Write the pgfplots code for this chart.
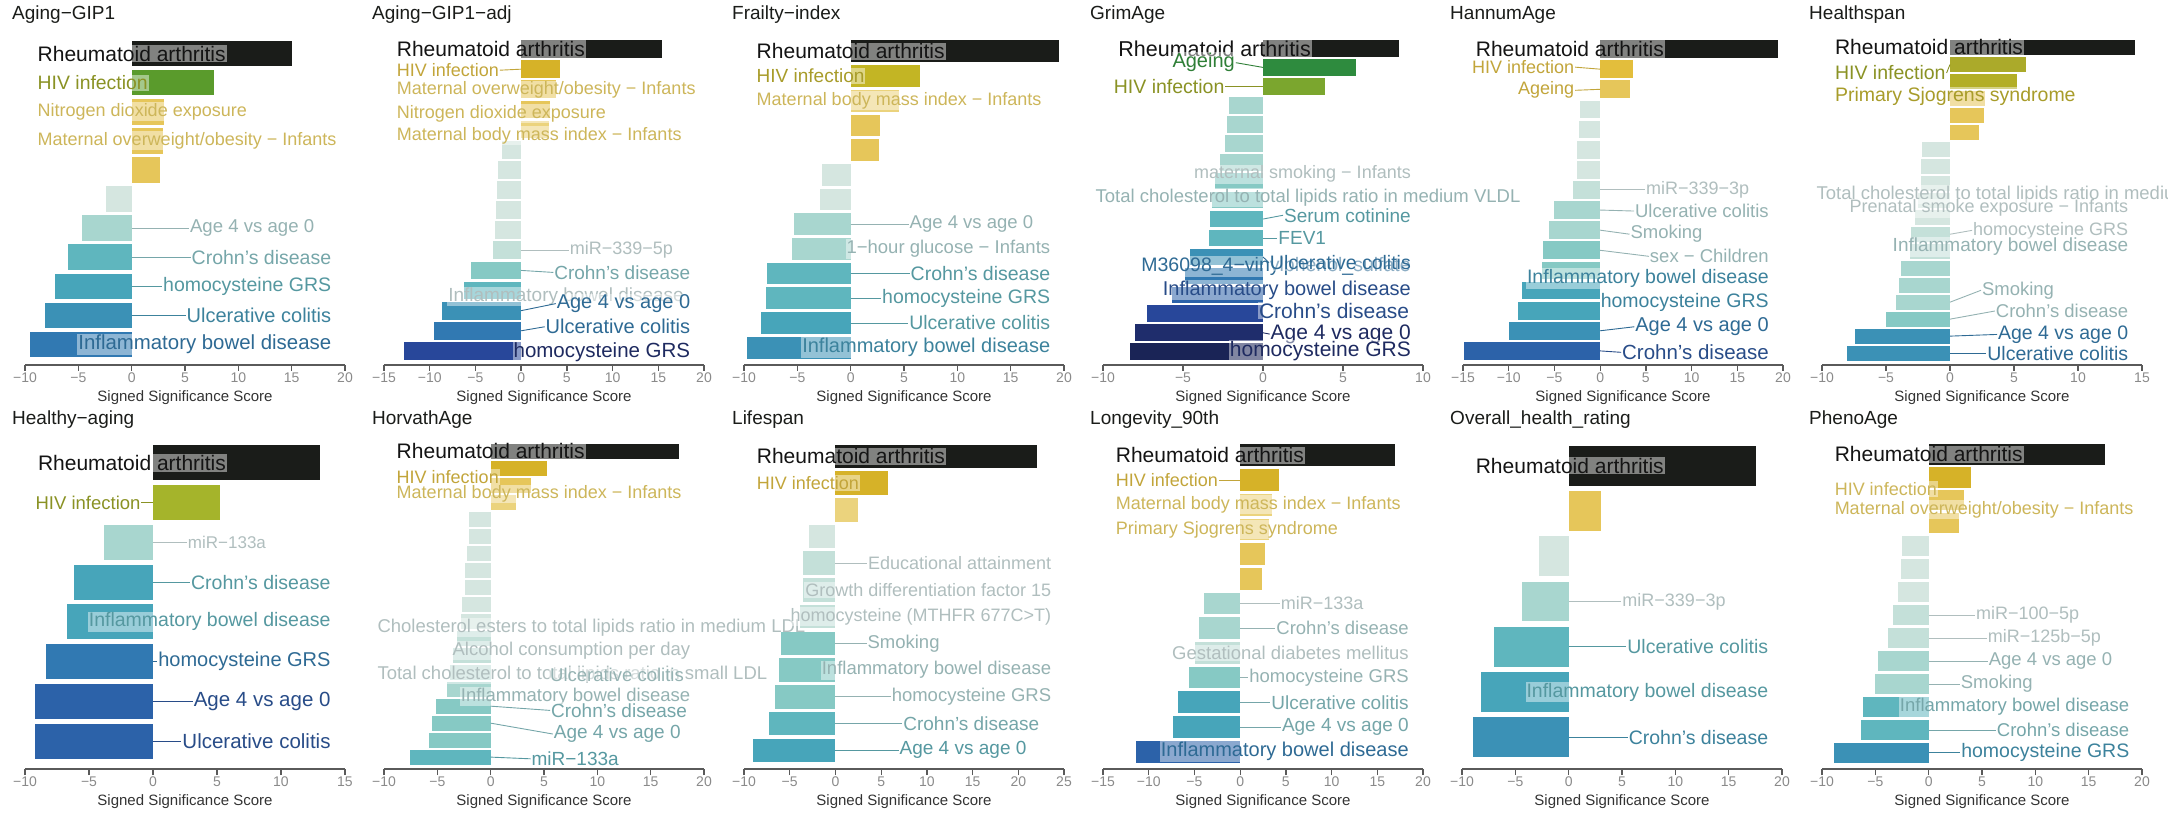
\documentclass[border=0pt]{standalone}
\usepackage{fontspec}
\setmainfont{Liberation Sans}
\usepackage{pgfplots}
\pgfplotsset{compat=1.18}
\definecolor{cK}{HTML}{1A1C19}
\definecolor{pGreen}{HTML}{5A9B2C}
\definecolor{pDG}{HTML}{2E8B3E}
\definecolor{pOG}{HTML}{7BA62E}
\definecolor{pYG}{HTML}{A5B42B}
\definecolor{pOl}{HTML}{ABAA2A}
\definecolor{pOl2}{HTML}{B3AE26}
\definecolor{pOl3}{HTML}{C3B524}
\definecolor{pGold}{HTML}{D6B228}
\definecolor{pY0}{HTML}{E3BE3C}
\definecolor{pY1}{HTML}{E6C65A}
\definecolor{pY2}{HTML}{EBD37D}
\definecolor{n0}{HTML}{D5E6E0}
\definecolor{n1}{HTML}{C4E0D9}
\definecolor{n2}{HTML}{A8D6CF}
\definecolor{n3}{HTML}{86C9C4}
\definecolor{n4}{HTML}{5FB6BE}
\definecolor{n5}{HTML}{47A5BA}
\definecolor{n6}{HTML}{3B91B6}
\definecolor{n7}{HTML}{3179B2}
\definecolor{n8}{HTML}{2C62A9}
\definecolor{n9}{HTML}{28479A}
\definecolor{n10}{HTML}{1F2D6C}
\definecolor{n11}{HTML}{1A2456}
\definecolor{tK}{HTML}{141414}
\definecolor{tOl}{HTML}{8A9224}
\definecolor{tOl2}{HTML}{A89C2A}
\definecolor{tGd}{HTML}{C2A53A}
\definecolor{tGd2}{HTML}{CDB65A}
\definecolor{tGr}{HTML}{2F7F37}
\definecolor{tA}{HTML}{B0BEBE}
\definecolor{tB}{HTML}{95B2B2}
\definecolor{tC}{HTML}{75A6A9}
\definecolor{tD}{HTML}{5598A0}
\definecolor{tE}{HTML}{3C829C}
\definecolor{tF}{HTML}{2E6A94}
\definecolor{tG}{HTML}{284C88}
\definecolor{tH}{HTML}{1E2A60}
\definecolor{axisgray}{HTML}{5A5A5A}
\definecolor{tickgray}{HTML}{8A8A8A}
\definecolor{xlabgray}{HTML}{333333}

\tikzset{lab/.style={fill=white, fill opacity=0.45, text opacity=1, inner sep=1bp, outer sep=0pt}}

\newcommand{\B}[3]{\addplot[xbar,bar shift=0pt,bar width=0.88,fill=#3,draw=none] coordinates {(#1,#2)};}
\newcommand{\LR}[6]{\node[lab,anchor=east,text=#4,font=\fontsize{#5bp}{#5bp}\selectfont] (t) at (axis cs:#1,#2) {#6};
 \draw[#4,line width=0.9bp] (axis cs:0,#3) -- (t.west);}
\newcommand{\LRn}[5]{\node[lab,anchor=east,text=#3,font=\fontsize{#4bp}{#4bp}\selectfont] at (axis cs:#1,#2) {#5};}
\newcommand{\LL}[6]{\node[lab,anchor=west,text=#4,font=\fontsize{#5bp}{#5bp}\selectfont] (t) at (axis cs:#1,#2) {#6};
 \draw[#4,line width=0.9bp] (t.east) -- (axis cs:0,#3);}
\newcommand{\LLn}[5]{\node[lab,anchor=west,text=#3,font=\fontsize{#4bp}{#4bp}\selectfont] at (axis cs:#1,#2) {#5};}
\newcommand{\LE}[6]{\node[lab,anchor=east,text=#4,font=\fontsize{#5bp}{#5bp}\selectfont] (t) at (axis cs:#1,#2) {#6};
 \draw[#4,line width=0.9bp] (t.east) -- (axis cs:0,#3);}

\pgfplotsset{
 panel/.style={scale only axis, width=320bp, height=326bp, clip=false,
  ymin=0.3, anchor=south west,
  axis x line*=bottom, axis y line=none, ytick=\empty,
  x axis line style={-,draw=axisgray,line width=1.5bp},
  every outer x axis line/.append style={-},
  tick align=outside, major tick length=6bp,
  xtick style={draw=axisgray,line width=1.3bp},
  xticklabel style={font=\fontsize{14bp}{14bp}\selectfont, text=tickgray, inner sep=1.5bp},
  xlabel={Signed Significance Score},
  xlabel style={at={(axis description cs:0.5,0)}, anchor=center, yshift=-33bp,
    font=\fontsize{15bp}{15bp}\selectfont, text=xlabgray},
 },
 rA/.style={xmin=-10,xmax=20,xtick={-10,-5,0,5,10,15,20},xticklabels={−10,−5,0,5,10,15,20}},
 rB/.style={xmin=-15,xmax=20,xtick={-15,-10,-5,0,5,10,15,20},xticklabels={−15,−10,−5,0,5,10,15,20}},
 rC/.style={xmin=-10,xmax=10,xtick={-10,-5,0,5,10},xticklabels={−10,−5,0,5,10}},
 rD/.style={xmin=-10,xmax=15,xtick={-10,-5,0,5,10,15},xticklabels={−10,−5,0,5,10,15}},
 rE/.style={xmin=-10,xmax=25,xtick={-10,-5,0,5,10,15,20,25},xticklabels={−10,−5,0,5,10,15,20,25}},
}

\begin{document}
\begin{tikzpicture}
\useasboundingbox (0,0) rectangle (2168bp,817bp);
\clip (0,0) rectangle (2168bp,817bp);
\tikzset{ttl/.style={anchor=base west,font=\fontsize{19bp}{19bp}\selectfont,text=cK,inner sep=0pt}}
\node[ttl] at (12bp,797bp) {Aging−GIP1};
\node[ttl] at (372bp,797bp) {Aging−GIP1−adj};
\node[ttl] at (732bp,797bp) {Frailty−index};
\node[ttl] at (1090bp,797bp) {GrimAge};
\node[ttl] at (1450bp,797bp) {HannumAge};
\node[ttl] at (1809bp,797bp) {Healthspan};
\node[ttl] at (12bp,392bp) {Healthy−aging};
\node[ttl] at (372bp,392bp) {HorvathAge};
\node[ttl] at (732bp,392bp) {Lifespan};
\node[ttl] at (1090bp,392bp) {Longevity\_90th};
\node[ttl] at (1450bp,392bp) {Overall\_health\_rating};
\node[ttl] at (1809bp,392bp) {PhenoAge};

% ---------- Panel 1: Aging-GIP1
\begin{axis}[panel, rA, at={(25bp,452bp)}, ymax=11.5]
\B{-9.5}{1}{n7}
\B{-8.1}{2}{n6}
\B{-7.2}{3}{n5}
\B{-5.95}{4}{n4}
\B{-4.7}{5}{n2}
\B{-2.4}{6}{n0}
\B{2.65}{7}{pY1}
\B{2.95}{8}{pY1}
\B{3.05}{9}{pY1}
\B{7.7}{10}{pGreen}
\B{15.0}{11}{cK}
\LLn{-8.9}{11}{tK}{21}{Rheumatoid arthritis}
\LLn{-8.9}{10}{tOl}{19.4}{HIV infection}
\LLn{-8.9}{9}{tGd2}{18}{Nitrogen dioxide exposure}
\LLn{-8.9}{8}{tGd2}{18}{Maternal overweight/obesity − Infants}
\LR{17.2}{5}{5}{tB}{18.6}{Age 4 vs age 0}
\LR{18.8}{4}{4}{tC}{19.5}{Crohn's disease}
\LR{18.8}{3}{3}{tD}{19.5}{homocysteine GRS}
\LR{18.8}{2}{2}{tE}{20}{Ulcerative colitis}
\LRn{18.8}{1}{tF}{20.4}{Inflammatory bowel disease}
\end{axis}

% ---------- Panel 2: Aging-GIP1-adj
\begin{axis}[panel, rB, at={(384bp,452bp)}, ymax=16.5]
\B{-12.8}{1}{n9}
\B{-9.5}{2}{n7}
\B{-8.7}{3}{n6}
\B{-6.2}{4}{n4}
\B{-5.5}{5}{n3}
\B{-3.1}{6}{n1}
\B{-2.85}{7}{n0}
\B{-2.7}{8}{n0}
\B{-2.6}{9}{n0}
\B{-2.5}{10}{n0}
\B{-2.1}{11}{n0}
\B{3.0}{12}{pY2}
\B{3.2}{13}{pY1}
\B{3.8}{14}{pY1}
\B{4.3}{15}{pGold}
\B{15.4}{16}{cK}
\LLn{-13.7}{16}{tK}{21}{Rheumatoid arthritis}
\LL{-13.7}{14.95}{15}{tGd}{18}{HIV infection}
\LLn{-13.7}{13.95}{tGd2}{18}{Maternal overweight/obesity − Infants}
\LLn{-13.7}{12.8}{tGd2}{18}{Nitrogen dioxide exposure}
\LLn{-13.7}{11.7}{tGd2}{18}{Maternal body mass index − Infants}
\LR{16.7}{6}{6}{tA}{18}{miR−339−5p}
\LR{18.6}{4.9}{5}{tC}{19}{Crohn's disease}
\LRn{17.9}{3.7}{tA}{19}{Inflammatory bowel disease}
\LR{18.6}{3.35}{3}{tF}{20}{Age 4 vs age 0}
\LR{18.6}{2.2}{2}{tF}{20}{Ulcerative colitis}
\LRn{18.6}{0.95}{tH}{20.5}{homocysteine GRS}
\end{axis}

% ---------- Panel 3: Frailty-index
\begin{axis}[panel, rA, at={(744bp,452bp)}, ymax=13.5]
\B{-9.7}{1}{n6}
\B{-8.45}{2}{n5}
\B{-7.9}{3}{n4}
\B{-7.8}{4}{n4}
\B{-5.5}{5}{n2}
\B{-5.3}{6}{n2}
\B{-2.9}{7}{n0}
\B{-2.7}{8}{n0}
\B{2.65}{9}{pY1}
\B{2.75}{10}{pY1}
\B{4.55}{11}{pY2}
\B{6.5}{12}{pOl3}
\B{19.5}{13}{cK}
\LLn{-8.9}{13}{tK}{21}{Rheumatoid arthritis}
\LLn{-8.9}{12}{tOl2}{19}{HIV infection}
\LLn{-8.9}{11}{tGd2}{18}{Maternal body mass index − Infants}
\LR{17.2}{6}{6}{tB}{18.5}{Age 4 vs age 0}
\LRn{18.8}{5}{tB}{18.5}{1−hour glucose − Infants}
\LR{18.8}{4}{4}{tD}{19.5}{Crohn's disease}
\LR{18.8}{3}{3}{tD}{19.5}{homocysteine GRS}
\LR{18.8}{2}{2}{tD}{19.5}{Ulcerative colitis}
\LRn{18.8}{1}{tE}{20}{Inflammatory bowel disease}
\end{axis}

% ---------- Panel 4: GrimAge
\begin{axis}[panel, rC, at={(1103bp,452bp)}, ymax=17.5]
\B{-8.3}{1}{n11}
\B{-8.0}{2}{n10}
\B{-7.25}{3}{n9}
\B{-5.7}{4}{n8}
\B{-4.85}{5}{n7}
\B{-4.55}{6}{n6}
\B{-3.4}{7}{n4}
\B{-3.3}{8}{n4}
\B{-3.2}{9}{n3}
\B{-3.0}{10}{n3}
\B{-2.7}{11}{n2}
\B{-2.35}{12}{n2}
\B{-2.25}{13}{n2}
\B{-2.15}{14}{n2}
\B{3.9}{15}{pOG}
\B{5.82}{16}{pDG}
\B{8.52}{17}{cK}
\LLn{-9.1}{17}{tK}{21.5}{Rheumatoid arthritis}
\LE{-1.7}{16.25}{16}{tGr}{20}{Ageing}
\LE{-2.35}{15}{15}{tOl}{19.5}{HIV infection}
\LRn{9.3}{10.37}{tA}{18}{maternal smoking − Infants}
\LLn{-10.52}{9.14}{tB}{18.5}{Total cholesterol to total lipids ratio in medium VLDL}
\LR{9.3}{8.2}{8}{tD}{19}{Serum cotinine}
\LR{4.0}{7}{7}{tD}{19}{FEV1}
\LRn{9.3}{5.5}{tF}{19.5}{M36098\_4−vinylphenol\_sulfate}
\LR{9.3}{5.7}{6}{tF}{19.5}{Ulcerative colitis}
\LRn{9.3}{4.25}{tG}{20}{Inflammatory bowel disease}
\LRn{9.2}{3.16}{tG}{21}{Crohn's disease}
\LR{9.3}{1.93}{2}{tH}{21}{Age 4 vs age 0}
\LRn{9.3}{1.05}{tH}{21}{homocysteine GRS}
\end{axis}

% ---------- Panel 5: HannumAge
\begin{axis}[panel, rB, at={(1463bp,452bp)}, ymax=16.5]
\B{-14.85}{1}{n8}
\B{-9.95}{2}{n6}
\B{-9.0}{3}{n5}
\B{-8.55}{4}{n5}
\B{-6.4}{5}{n3}
\B{-6.3}{6}{n3}
\B{-5.65}{7}{n2}
\B{-5.1}{8}{n2}
\B{-3.0}{9}{n1}
\B{-2.55}{10}{n0}
\B{-2.5}{11}{n0}
\B{-2.35}{12}{n0}
\B{-2.25}{13}{n0}
\B{3.27}{14}{pY1}
\B{3.56}{15}{pY0}
\B{19.45}{16}{cK}
\LLn{-13.7}{16}{tK}{21}{Rheumatoid arthritis}
\LE{-2.73}{15.1}{15}{tGd}{18}{HIV infection}
\LE{-2.73}{13.95}{14}{tGd}{18}{Ageing}
\LR{16.4}{9}{9}{tA}{18}{miR−339−3p}
\LR{18.55}{7.95}{8}{tB}{18.5}{Ulcerative colitis}
\LR{11.3}{6.8}{7}{tB}{18.5}{Smoking}
\LR{18.55}{5.7}{6}{tB}{18.5}{sex − Children}
\LRn{18.55}{4.6}{tE}{19.5}{Inflammatory bowel disease}
\LRn{18.55}{3.43}{tE}{19.5}{homocysteine GRS}
\LR{18.55}{2.2}{2}{tF}{20}{Age 4 vs age 0}
\LR{18.55}{0.93}{1}{tG}{20.5}{Crohn's disease}
\end{axis}

% ---------- Panel 6: Healthspan
\begin{axis}[panel, rD, at={(1822bp,452bp)}, ymax=19.5]
\B{-8.05}{1}{n6}
\B{-7.4}{2}{n6}
\B{-5.0}{3}{n3}
\B{-4.2}{4}{n2}
\B{-3.95}{5}{n2}
\B{-3.8}{6}{n2}
\B{-3.1}{7}{n1}
\B{-3.05}{8}{n1}
\B{-2.7}{9}{n0}
\B{-2.5}{10}{n0}
\B{-2.3}{11}{n0}
\B{-2.3}{12}{n0}
\B{-2.2}{13}{n0}
\B{2.3}{14}{pY1}
\B{2.66}{15}{pY1}
\B{2.75}{16}{pY1}
\B{5.2}{17}{pOl2}
\B{5.95}{18}{pOl}
\B{14.45}{19}{cK}
\LLn{-9.06}{19}{tK}{21}{Rheumatoid arthritis}
\LL{-9.06}{17.5}{18}{tOl}{19.5}{HIV infection}
\LLn{-9.06}{16.1}{tOl2}{19.5}{Primary Sjogrens syndrome}
\LLn{-10.5}{10.35}{tA}{18.5}{Total cholesterol to total lipids ratio in medium VLDL}
\LRn{14.0}{9.53}{tA}{18}{Prenatal smoke exposure − Infants}
\LR{14.0}{8.23}{8}{tA}{18}{homocysteine GRS}
\LRn{14.0}{7.25}{tB}{19}{Inflammatory bowel disease}
\LR{8.2}{4.7}{4}{tB}{18.5}{Smoking}
\LR{14.0}{3.48}{3}{tB}{18.5}{Crohn's disease}
\LR{14.0}{2.1}{2}{tF}{19.5}{Age 4 vs age 0}
\LR{14.0}{1.0}{1}{tF}{19.5}{Ulcerative colitis}
\end{axis}

% ---------- Panel 7: Healthy-aging
\begin{axis}[panel, rD, at={(25bp,48bp)}, ymax=8.5]
\B{-9.2}{1}{n8}
\B{-9.2}{2}{n8}
\B{-8.35}{3}{n7}
\B{-6.7}{4}{n5}
\B{-6.15}{5}{n5}
\B{-3.8}{6}{n2}
\B{5.23}{7}{pYG}
\B{13.05}{8}{cK}
\LLn{-9.06}{8}{tK}{21}{Rheumatoid arthritis}
\LE{-0.9}{7}{7}{tOl}{18.5}{HIV infection}
\LR{8.9}{6}{6}{tA}{17}{miR−133a}
\LR{13.95}{5}{5}{tD}{19.5}{Crohn's disease}
\LRn{13.95}{4}{tD}{19.5}{Inflammatory bowel disease}
\LR{13.95}{3}{3}{tF}{20}{homocysteine GRS}
\LR{13.95}{2}{2}{tG}{20.5}{Age 4 vs age 0}
\LR{13.95}{1}{1}{tG}{20.5}{Ulcerative colitis}
\end{axis}

% ---------- Panel 8: HorvathAge
\begin{axis}[panel, rA, at={(384bp,48bp)}, ymax=19.5]
\B{-7.55}{1}{n4}
\B{-5.8}{2}{n3}
\B{-5.5}{3}{n3}
\B{-5.1}{4}{n3}
\B{-4.05}{5}{n2}
\B{-3.8}{6}{n1}
\B{-3.5}{7}{n1}
\B{-3.2}{8}{n1}
\B{-2.8}{9}{n0}
\B{-2.7}{10}{n0}
\B{-2.45}{11}{n0}
\B{-2.4}{12}{n0}
\B{-2.25}{13}{n0}
\B{-2.0}{14}{n0}
\B{-2.0}{15}{n0}
\B{2.4}{16}{pY2}
\B{3.75}{17}{pY1}
\B{5.25}{18}{pGold}
\B{17.7}{19}{cK}
\LLn{-8.9}{19}{tK}{21}{Rheumatoid arthritis}
\LLn{-8.9}{17.5}{tGd}{18}{HIV infection}
\LLn{-8.9}{16.5}{tGd2}{18}{Maternal body mass index − Infants}
\LLn{-10.7}{8.62}{tA}{18.5}{Cholesterol esters to total lipids ratio in medium LDL}
\LRn{18.8}{7.28}{tA}{18.5}{Alcohol consumption per day}
\LLn{-10.7}{5.86}{tA}{18.5}{Total cholesterol to total lipids ratio in small LDL}
\LRn{18.2}{5.86}{tB}{18.5}{Ulcerative colitis}
\LRn{18.8}{4.58}{tB}{18.5}{Inflammatory bowel disease}
\LR{18.5}{3.75}{4}{tC}{19}{Crohn's disease}
\LR{17.9}{2.36}{3}{tC}{19}{Age 4 vs age 0}
\LR{12.1}{0.9}{1}{tD}{19}{miR−133a}
\end{axis}

% ---------- Panel 9: Lifespan
\begin{axis}[panel, rE, at={(744bp,48bp)}, ymax=12.5]
\B{-9.0}{1}{n5}
\B{-7.3}{2}{n4}
\B{-6.6}{3}{n3}
\B{-6.2}{4}{n3}
\B{-6.0}{5}{n3}
\B{-3.9}{6}{n1}
\B{-3.6}{7}{n1}
\B{-3.5}{8}{n1}
\B{-2.9}{9}{n0}
\B{2.5}{10}{pY2}
\B{5.75}{11}{pGold}
\B{22.0}{12}{cK}
\LLn{-8.7}{12}{tK}{21}{Rheumatoid arthritis}
\LLn{-8.7}{11}{tGd}{18}{HIV infection}
\LR{23.7}{8}{8}{tA}{18}{Educational attainment}
\LRn{23.7}{7}{tA}{18}{Growth differentiation factor 15}
\LRn{23.7}{6}{tA}{18}{homocysteine (MTHFR 677C>T)}
\LR{11.5}{5}{5}{tB}{18.5}{Smoking}
\LRn{23.7}{4}{tB}{18.5}{Inflammatory bowel disease}
\LR{23.7}{3}{3}{tB}{18.5}{homocysteine GRS}
\LR{22.4}{2}{2}{tC}{19}{Crohn's disease}
\LR{21.0}{1}{1}{tD}{19}{Age 4 vs age 0}
\end{axis}

% ---------- Panel 10: Longevity_90th
\begin{axis}[panel, rB, at={(1103bp,48bp)}, ymax=13.5]
\B{-11.35}{1}{n8}
\B{-7.35}{2}{n5}
\B{-6.85}{3}{n5}
\B{-5.55}{4}{n3}
\B{-4.9}{5}{n1}
\B{-4.55}{6}{n2}
\B{-3.95}{7}{n2}
\B{2.4}{8}{pY1}
\B{2.75}{9}{pY1}
\B{3.1}{10}{pY2}
\B{3.45}{11}{pY2}
\B{4.25}{12}{pGold}
\B{16.9}{13}{cK}
\LLn{-13.7}{13}{tK}{21}{Rheumatoid arthritis}
\LL{-13.7}{12}{12}{tGd}{18}{HIV infection}
\LLn{-13.7}{11}{tGd2}{18}{Maternal body mass index − Infants}
\LLn{-13.7}{10}{tGd2}{18}{Primary Sjogrens syndrome}
\LR{13.6}{7}{7}{tA}{18}{miR−133a}
\LR{18.55}{6}{6}{tB}{18.5}{Crohn's disease}
\LRn{18.55}{5}{tA}{18.5}{Gestational diabetes mellitus}
\LR{18.55}{4}{4}{tB}{18.5}{homocysteine GRS}
\LR{18.55}{3}{3}{tC}{19}{Ulcerative colitis}
\LR{18.55}{2}{2}{tC}{19}{Age 4 vs age 0}
\LRn{18.55}{1}{tF}{20}{Inflammatory bowel disease}
\end{axis}

% ---------- Panel 11: Overall_health_rating
\begin{axis}[panel, rA, at={(1462bp,48bp)}, ymax=7.5]
\B{-9.0}{1}{n6}
\B{-8.2}{2}{n5}
\B{-7.0}{3}{n4}
\B{-4.35}{4}{n2}
\B{-2.8}{5}{n0}
\B{3.0}{6}{pY1}
\B{17.6}{7}{cK}
\LLn{-8.8}{7}{tK}{21}{Rheumatoid arthritis}
\LR{14.8}{4}{4}{tA}{18}{miR−339−3p}
\LR{18.8}{3}{3}{tD}{19.5}{Ulcerative colitis}
\LRn{18.8}{2}{tD}{19.5}{Inflammatory bowel disease}
\LR{18.8}{1}{1}{tE}{19.5}{Crohn's disease}
\end{axis}

% ---------- Panel 12: PhenoAge
\begin{axis}[panel, rA, at={(1822bp,48bp)}, ymax=14.5]
\B{-8.9}{1}{n6}
\B{-6.35}{2}{n4}
\B{-6.15}{3}{n4}
\B{-5.0}{4}{n2}
\B{-4.75}{5}{n2}
\B{-3.8}{6}{n1}
\B{-3.35}{7}{n1}
\B{-2.9}{8}{n0}
\B{-2.55}{9}{n0}
\B{-2.5}{10}{n0}
\B{2.8}{11}{pY1}
\B{3.3}{12}{pY1}
\B{4.0}{13}{pGold}
\B{16.55}{14}{cK}
\LLn{-8.9}{14}{tK}{21}{Rheumatoid arthritis}
\LLn{-8.9}{12.5}{tGd2}{18}{HIV infection}
\LLn{-8.9}{11.6}{tGd2}{18}{Maternal overweight/obesity − Infants}
\LR{14.2}{7}{7}{tA}{18}{miR−100−5p}
\LR{16.25}{6}{6}{tA}{18}{miR−125b−5p}
\LR{17.3}{5}{5}{tB}{18.5}{Age 4 vs age 0}
\LR{9.85}{4}{4}{tB}{18.5}{Smoking}
\LRn{18.9}{3}{tC}{18.5}{Inflammatory bowel disease}
\LR{18.9}{2}{2}{tC}{18.5}{Crohn's disease}
\LR{18.9}{1}{1}{tE}{19.5}{homocysteine GRS}
\end{axis}
\end{tikzpicture}
\end{document}
